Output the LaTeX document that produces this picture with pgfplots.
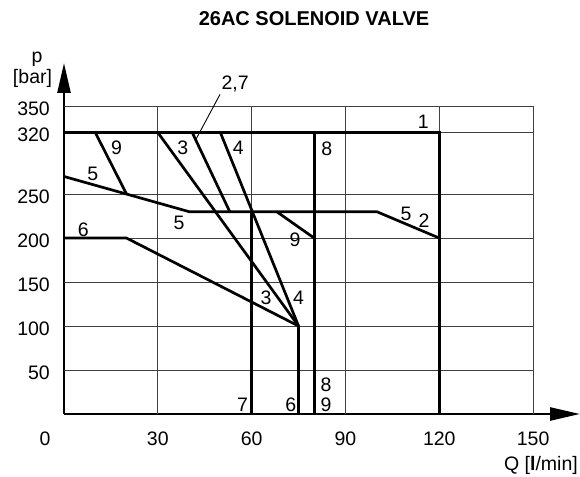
\documentclass[border=0pt]{standalone}
\usepackage{pgfplots}
\pgfplotsset{compat=1.18}
\usepackage{fontspec}
\setmainfont{Liberation Sans}
\usetikzlibrary{arrows.meta}
\begin{document}
\begin{tikzpicture}[
  gridl/.style={line width=1pt, black!75},
  cur/.style={line width=2.7pt, black, line join=miter},
  lab/.style={font=\fontsize{19.5}{22}\selectfont, inner sep=0pt},
]
\begin{axis}[
  scale only axis, width=516pt, height=351pt,
  xmin=0, xmax=165, ymin=0, ymax=399,
  axis lines=left, clip=false,
  axis line style={line width=2.6pt, -{Triangle[length=30pt,width=13pt]}},
  xtick={30,60,90,120,150},
  ytick={50,100,150,200,250,320,350},
  major tick length=0pt,
  /pgf/number format/assume math mode=true,
  tick label style={font=\fontsize{19.5}{22}\selectfont, inner sep=0pt},
  xticklabel style={anchor=base, yshift=-31pt},
  yticklabel style={anchor=base east, xshift=-14pt, yshift=-9pt},
]
% grid
\pgfplotsinvokeforeach{30,60,90,120,150}{\addplot[gridl] coordinates {(#1,0) (#1,350)};}
\pgfplotsinvokeforeach{50,100,150,200,250,320,350}{\addplot[gridl] coordinates {(0,#1) (150,#1)};}
% curves
\addplot[cur] coordinates {(0,320) (120,320) (120,0)};            % 1
\addplot[cur] coordinates {(10,320) (20,250)};                    % 9
\addplot[cur] coordinates {(0,270) (20,250) (40,230) (100,230) (120,200)}; % 5 / 2
\addplot[cur] coordinates {(41,320) (53,230)};                    % 2,7
\addplot[cur] coordinates {(60,230) (60,0)};                      % 7
\addplot[cur] coordinates {(30,320) (75,100) (75,0)};             % 3
\addplot[cur] coordinates {(50,320) (75,100)};                    % 4
\addplot[cur] coordinates {(0,200) (20,200) (75,100)};            % 6
\addplot[cur] coordinates {(68,230) (80,200)};                    % 9
\addplot[cur] coordinates {(80,320) (80,0)};                      % 8
% leader
\addplot[line width=0.9pt, black] coordinates {(49.9,363.4) (41.9,310.3)};
% labels
\node[lab] at (axis cs:114.9,332.5) {1};
\node[lab] at (axis cs:84,302) {8};
\node[lab] at (axis cs:109.4,227) {5};
\node[lab] at (axis cs:115.1,220) {2};
\node[lab] at (axis cs:73.9,197.5) {9};
\node[lab] at (axis cs:16.8,302.7) {9};
\node[lab] at (axis cs:38,302.7) {3};
\node[lab] at (axis cs:55.7,302.7) {4};
\node[lab] at (axis cs:9.2,273) {5};
\node[lab] at (axis cs:36.8,217.5) {5};
\node[lab] at (axis cs:6.2,209) {6};
\node[lab] at (axis cs:54.7,374.8) {2,7};
\node[lab] at (axis cs:64.6,132.2) {3};
\node[lab] at (axis cs:75,132) {4};
\node[lab] at (axis cs:57.1,11) {7};
\node[lab] at (axis cs:72.5,11) {6};
\node[lab] at (axis cs:83.8,33) {8};
\node[lab] at (axis cs:83.8,11) {9};
\coordinate (O) at (axis cs:0,0);
\end{axis}
\node[lab, anchor=base] at ([xshift=-19pt,yshift=-31pt]O) {0};
\node[font=\bfseries\fontsize{20}{24}\selectfont, inner sep=0pt] at ([xshift=250pt,yshift=395pt]O) {26AC SOLENOID VALVE};
\node[lab, anchor=base] at ([xshift=-27pt,yshift=351pt]O) {p};
\node[lab, anchor=base] at ([xshift=-31.5pt,yshift=330pt]O) {[bar]};
\node[lab, anchor=base east] at ([xshift=514pt,yshift=-56pt]O) {Q [\textbf{l}/min]};
\pgfresetboundingbox
\path[use as bounding box] (O) ++(-64pt,-62pt) rectangle ++(580pt,476pt);
\end{tikzpicture}
\end{document}
